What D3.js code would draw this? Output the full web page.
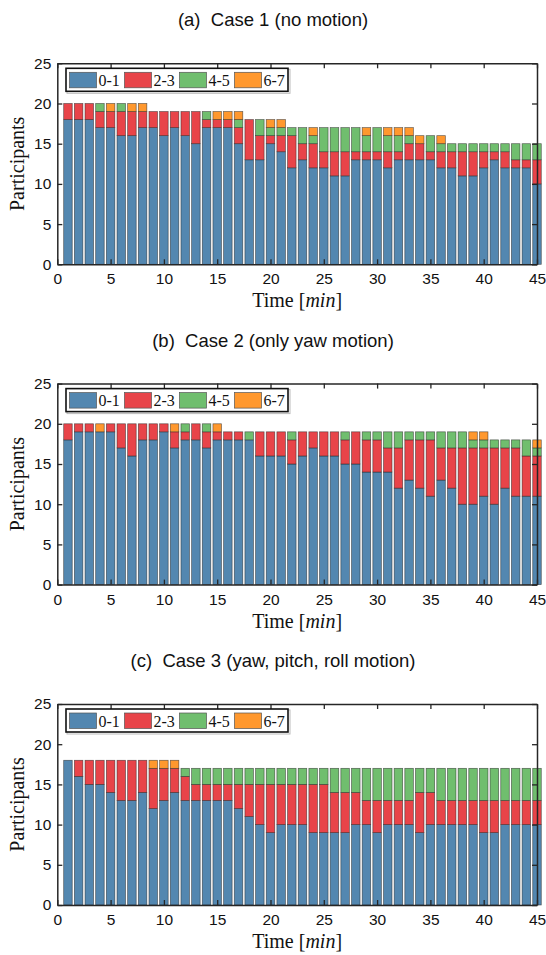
<!DOCTYPE html>
<html lang="en">
<head>
<meta charset="UTF-8">
<title>Participants per time</title>
<script src="https://d3js.org/d3.v7.min.js"></script>
<style>
  body { margin: 0; background: #fff; }
  text { fill: #111; }
</style>
</head>
<body>
<div id="chart"></div>
<script>
// minutes 1..45
var minutes = d3.range(1, 46);
var groups = ["0-1", "2-3", "4-5", "6-7"];
var colors = ["#5387b0", "#e84449", "#70be6e", "#ff982e"];
var titles = ["(a)  Case 1 (no motion)", "(b)  Case 2 (only yaw motion)", "(c)  Case 3 (yaw, pitch, roll motion)"];
var yTicks = [0, 5, 10, 15, 20, 25];
var xTicks = [0, 5, 10, 15, 20, 25, 30, 35, 40, 45];

// Case 1
var case1_01 = [18,18,18,17,17,16,16,17,17,16,17,16,15,17,17,17,15,13,13,15,14,12,13,12,12,11,11,13,13,13,12,13,13,13,13,12,12,11,11,12,13,12,12,12,10];
var case1_23 = [2,2,2,2,2,3,3,2,2,3,2,3,4,1,1,1,2,5,3,1,2,4,2,3,2,3,3,1,1,1,2,1,2,2,1,2,2,3,3,2,1,2,1,1,3];
var case1_45 = [0,0,0,1,0,1,0,0,0,0,0,0,0,1,0,0,1,0,2,1,1,1,2,1,3,3,3,3,2,3,2,2,1,0,2,1,1,1,1,1,1,1,2,2,2];
var case1_67 = [0,0,0,0,1,0,1,1,0,0,0,0,0,0,1,1,1,0,0,1,1,0,0,1,0,0,0,0,1,0,1,1,1,1,0,1,0,0,0,0,0,0,0,0,0];

// Case 2
var case2_01 = [18,19,19,19,19,17,16,18,18,19,17,18,18,17,18,18,18,18,16,16,16,15,16,17,16,16,15,15,14,14,14,12,13,12,11,13,12,10,10,11,10,12,11,11,11];
var case2_23 = [2,1,1,0,1,3,4,2,2,1,2,1,2,2,1,1,1,0,3,3,3,3,3,2,3,3,3,4,4,4,3,5,5,6,7,4,5,7,7,6,7,5,6,5,5];
var case2_45 = [0,0,0,0,0,0,0,0,0,0,0,1,0,1,0,0,0,1,0,0,0,1,0,0,0,0,1,0,1,1,2,2,1,1,1,2,2,2,1,1,1,1,1,2,1];
var case2_67 = [0,0,0,1,0,0,0,0,0,0,1,0,0,0,1,0,0,0,0,0,0,0,0,0,0,0,0,0,0,0,0,0,0,0,0,0,0,0,1,1,0,0,0,0,1];

// Case 3
var case3_01 = [18,16,15,15,14,13,13,14,12,13,14,13,13,13,13,13,12,11,10,9,10,10,10,9,9,9,9,10,10,9,10,10,10,9,10,10,10,10,10,9,9,10,10,10,10];
var case3_23 = [0,2,3,3,4,5,5,4,5,4,3,3,2,2,2,2,3,4,5,6,5,5,5,6,6,5,5,4,3,4,3,3,3,5,4,3,3,3,3,4,4,3,3,3,3];
var case3_45 = [0,0,0,0,0,0,0,0,0,0,0,1,2,2,2,2,2,2,2,2,2,2,2,2,2,3,3,3,4,4,4,4,4,3,3,4,4,4,4,4,4,4,4,4,4];
var case3_67 = [0,0,0,0,0,0,0,0,1,1,1,0,0,0,0,0,0,0,0,0,0,0,0,0,0,0,0,0,0,0,0,0,0,0,0,0,0,0,0,0,0,0,0,0,0];

var cases = [
  [case1_01, case1_23, case1_45, case1_67],
  [case2_01, case2_23, case2_45, case2_67],
  [case3_01, case3_23, case3_45, case3_67]
];

var width = 546, height = 955;
var left = 57.3, right = 537;
var plotH = 201;
var tops = [63.3, 383.6, 704];

var svg = d3.select("#chart").append("svg")
  .attr("width", width)
  .attr("height", height);

var x = d3.scaleLinear().domain([0, 45]).range([left, right]);
var barW = x(0.8) - x(0);

cases.forEach(function(series, i) {
  var top = tops[i];
  var y = d3.scaleLinear().domain([0, 25]).range([top + plotH, top]);
  var g = svg.append("g");

  // title
  g.append("text")
    .attr("x", 273)
    .attr("y", top - 37)
    .attr("text-anchor", "middle")
    .style("white-space", "pre")
    .style("font", "18.5px 'Liberation Sans', Arial, sans-serif")
    .text(titles[i]);

  // stack rows
  var rows = minutes.map(function(m, k) {
    var r = { t: m };
    groups.forEach(function(gname, j) { r[gname] = series[j][k]; });
    return r;
  });
  var stacked = d3.stack().keys(groups)(rows);

  g.selectAll("g.layer")
    .data(stacked)
    .enter().append("g")
    .attr("class", "layer")
    .attr("fill", function(d, j) { return colors[j]; })
    .selectAll("rect")
    .data(function(d) { return d.filter(function(p) { return p[1] > p[0]; }); })
    .enter().append("rect")
    .attr("x", function(d) { return x(d.data.t) - barW / 2; })
    .attr("width", barW)
    .attr("y", function(d) { return y(d[1]); })
    .attr("height", function(d) { return y(d[0]) - y(d[1]); })
    .attr("stroke", "#222")
    .attr("stroke-opacity", 0.65)
    .attr("stroke-width", 0.7);

  // axes with inward ticks, boxed
  var axisColor = "#262626";
  var xb = g.append("g").attr("transform", "translate(0," + (top + plotH) + ")")
    .call(d3.axisBottom(x).tickValues(xTicks).tickSizeInner(-5).tickSizeOuter(0).tickPadding(9));
  var xt = g.append("g").attr("transform", "translate(0," + top + ")")
    .call(d3.axisTop(x).tickValues(xTicks).tickSizeInner(-5).tickSizeOuter(0).tickFormat(""));
  var yl = g.append("g").attr("transform", "translate(" + left + ",0)")
    .call(d3.axisLeft(y).tickValues(yTicks).tickSizeInner(-5).tickSizeOuter(0).tickPadding(6));
  var yr = g.append("g").attr("transform", "translate(" + right + ",0)")
    .call(d3.axisRight(y).tickValues(yTicks).tickSizeInner(-5).tickSizeOuter(0).tickFormat(""));
  [xb, xt, yl, yr].forEach(function(a) {
    a.select(".domain").attr("stroke", axisColor).attr("stroke-width", 1.5);
    a.selectAll(".tick line").attr("stroke", axisColor).attr("stroke-width", 1.3);
    a.selectAll(".tick text")
      .style("font", "15.5px 'Liberation Sans', Arial, sans-serif")
      .attr("fill", "#222");
  });

  // axis labels
  var xl = g.append("text")
    .attr("x", (left + right) / 2)
    .attr("y", top + plotH + 43)
    .attr("text-anchor", "middle")
    .style("font", "20px 'Liberation Serif', 'Times New Roman', serif");
  xl.append("tspan").text("Time ");
  xl.append("tspan").text("[");
  xl.append("tspan").style("font-style", "italic").text("min");
  xl.append("tspan").text("]");

  g.append("text")
    .attr("transform", "translate(24," + (top + plotH / 2) + ") rotate(-90)")
    .attr("text-anchor", "middle")
    .style("font", "20px 'Liberation Serif', 'Times New Roman', serif")
    .text("Participants");

  // legend
  var lg = g.append("g").attr("transform", "translate(66," + (top + 5) + ")");
  lg.append("rect")
    .attr("x", 1).attr("y", 1).attr("width", 223).attr("height", 24)
    .attr("fill", "none").attr("stroke", "#bbb").attr("stroke-width", 1);
  lg.append("rect")
    .attr("width", 222).attr("height", 23)
    .attr("fill", "#fff").attr("stroke", "#111").attr("stroke-width", 1.6);
  groups.forEach(function(name, j) {
    var ox = 3.5 + j * 55;
    lg.append("rect")
      .attr("x", ox).attr("y", 4).attr("width", 27).attr("height", 15.5)
      .attr("fill", colors[j]).attr("stroke", "#555").attr("stroke-width", 0.7);
    lg.append("text")
      .attr("x", ox + 29).attr("y", 17.5)
      .style("font", "16px 'Liberation Serif', 'Times New Roman', serif")
      .text(name);
  });
});
</script>
</body>
</html>
